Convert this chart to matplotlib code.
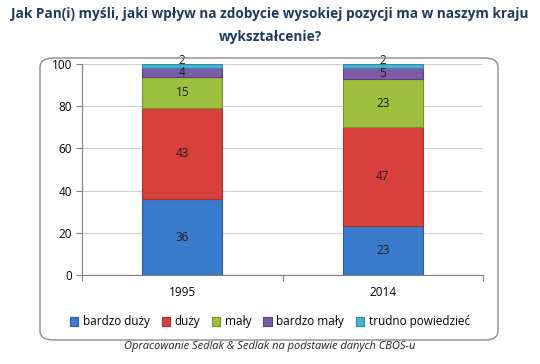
import numpy as np
import matplotlib.pyplot as plt
from matplotlib.patches import FancyBboxPatch

years = ['1995', '2014']
categories = ['bardzo duży', 'duży', 'mały', 'bardzo mały', 'trudno powiedzieć']
values = {
    'bardzo duży': [36, 23],
    'duży': [43, 47],
    'mały': [15, 23],
    'bardzo mały': [4, 5],
    'trudno powiedzieć': [2, 2],
}
colors = ['#3B7BCB', '#D8403D', '#9DC03E', '#7E5AAA', '#46B3CF']
edges = ['#2A5C9C', '#A8302E', '#76922C', '#5C417E', '#3288A0']

plt.rcParams['font.family'] = ['Open Sans', 'DejaVu Sans']

fig = plt.figure(figsize=(5.4, 3.64), dpi=100)
ax = fig.add_axes([82 / 540, 1 - 275 / 364, 401 / 540, 211 / 364])

# rounded chart frame
frame = FancyBboxPatch((40 / 540, 1 - 340 / 364), 458 / 540, 282 / 364,
                       boxstyle='round,pad=0,rounding_size=0.025',
                       transform=fig.transFigure, fill=False,
                       edgecolor='#8C8C8C', linewidth=1.0)
fig.patches.append(frame)

x = np.arange(len(years))
bottom = np.zeros(len(years))
for i, (cat, col, ec) in enumerate(zip(categories, colors, edges)):
    v = np.array(values[cat])
    ax.bar(x, v, bottom=bottom, width=0.4, color=col, edgecolor=ec,
           linewidth=0.8, label=cat, zorder=3)
    # small top segment: lift its label a little so it doesn't sit on the next one
    dy = 4 if i == len(categories) - 1 else 0
    for xi, vi, bi in zip(x, v, bottom):
        ax.annotate(str(vi), (xi, bi + vi / 2), xytext=(0, dy),
                    textcoords='offset points', ha='center', va='center',
                    fontsize=8.5, color='#1a1a1a', zorder=4)
    bottom += v

ax.set_xlim(-0.5, 1.5)
ax.set_ylim(0, 100)
ax.set_yticks(range(0, 101, 20))
ax.yaxis.grid(True, color='#D0D0D0', linewidth=0.8, zorder=0)
ax.set_xticks([-0.5, 0.5, 1.5])
ax.set_xticklabels([])
ax.set_xticks(x, minor=True)
ax.set_xticklabels(years, minor=True)
ax.tick_params(axis='x', which='minor', length=0, pad=8, labelsize=8.5)
ax.tick_params(axis='x', which='major', length=4, color='#808080')
ax.tick_params(axis='y', length=4, color='#808080', labelsize=8.5, pad=3)
for s in ['top', 'right']:
    ax.spines[s].set_visible(False)
for s in ['left', 'bottom']:
    ax.spines[s].set_color('#808080')

fig.text(0.5, 1 - 14 / 364, 'Jak Pan(i) myśli, jaki wpływ na zdobycie wysokiej pozycji ma w naszym kraju',
         ha='center', va='center', fontsize=9.8, fontweight='bold', color='#1F3A5F')
fig.text(0.5, 1 - 37 / 364, 'wykształcenie?',
         ha='center', va='center', fontsize=9.8, fontweight='bold', color='#1F3A5F')

handles, labels = ax.get_legend_handles_labels()
fig.legend(handles, labels, loc='center', bbox_to_anchor=(270 / 540, 1 - 322 / 364),
           ncol=5, frameon=False, fontsize=8.5, handlelength=0.7, handleheight=0.7,
           handletextpad=0.4, columnspacing=1.0)

fig.text(270 / 540, 1 - 347 / 364, 'Opracowanie Sedlak & Sedlak na podstawie danych CBOS-u',
         ha='center', va='center', fontsize=8, style='italic', color='#222222')

fig.savefig('out.png', dpi=100)
